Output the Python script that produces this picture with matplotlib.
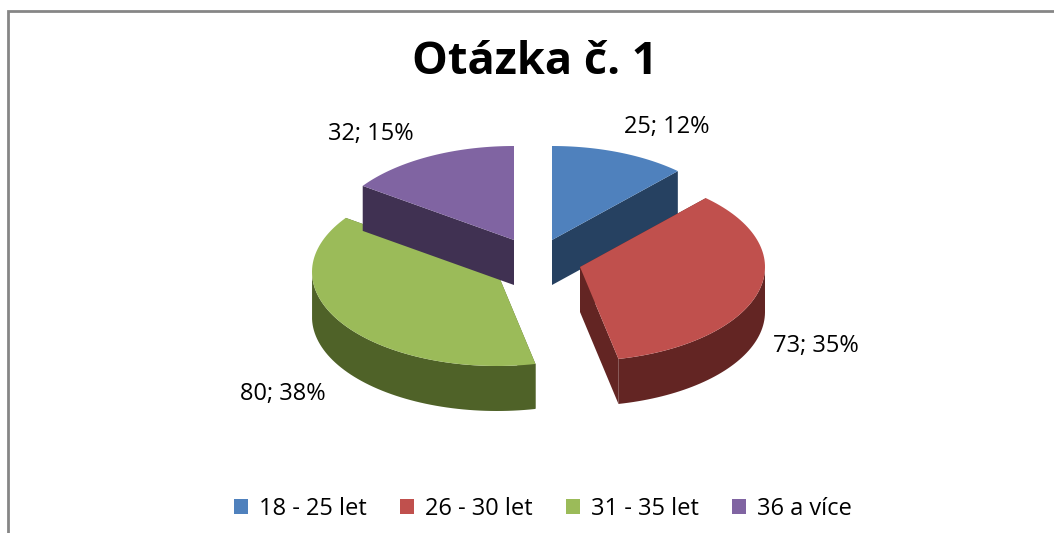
import numpy as np
import matplotlib
matplotlib.use("Agg")
import matplotlib.pyplot as plt
from matplotlib.patches import Polygon, Patch

# ----- Data ----- #
categories = ["18 - 25 let", "26 - 30 let", "31 - 35 let", "36 a více"]
values = [25, 73, 80, 32]
title = "Otázka č. 1"

# ----- Styles / layout (pixels) ----- #
top_colors = ["#4F81BD", "#C0504D", "#9BBB59", "#8064A2"]
side_colors = ["#264161", "#632523", "#4F6228", "#403152"]
centers = [(552, 240), (580, 267), (497, 272), (514, 240)]
label_pos = [(667, 127), (816, 346), (283, 394), (371, 134)]
draw_order = [2, 3, 0, 1]
rx, ry, depth = 185, 94, 45

plt.rcParams["font.family"] = ["Open Sans", "DejaVu Sans"]

fig = plt.figure(figsize=(10.54, 5.33), dpi=100)
ax = fig.add_axes([0, 0, 1, 1])
ax.set_xlim(0, 1054)
ax.set_ylim(533, 0)
ax.axis("off")

# chart frame, runs off the image at the right and bottom
ax.plot([8, 8, 1054], [533, 11, 11], color="#868686", lw=2, solid_joinstyle="miter")

# ----- Slices ----- #
total = sum(values)
edges = np.cumsum([0] + values) / total * 2 * np.pi   # clockwise from the top

for i in draw_order:
    cx, cy = centers[i]
    t = np.linspace(edges[i], edges[i + 1], 80)
    x = cx + rx * np.sin(t)
    y = cy - ry * np.cos(t)

    # radial walls
    for xe, ye in [(x[0], y[0]), (x[-1], y[-1])]:
        ax.add_patch(Polygon([(cx, cy), (xe, ye), (xe, ye + depth), (cx, cy + depth)],
                             closed=True, fc=side_colors[i], ec="none", zorder=2))
    # outer wall, only the part that faces the viewer
    front = (t >= np.pi / 2) & (t <= 3 * np.pi / 2)
    if front.any():
        xf, yf = x[front], y[front]
        wall = np.column_stack([np.r_[xf, xf[::-1]], np.r_[yf, yf[::-1] + depth]])
        ax.add_patch(Polygon(wall, closed=True, fc=side_colors[i], ec="none", zorder=2))
    # top face
    top = np.column_stack([np.r_[cx, x], np.r_[cy, y]])
    ax.add_patch(Polygon(top, closed=True, fc=top_colors[i], ec="none", zorder=2))

    pct = round(values[i] / total * 100)
    ax.text(label_pos[i][0], label_pos[i][1], f"{values[i]}; {pct}%",
            ha="center", va="center", fontsize=17, color="black", zorder=3)

# ----- Title and legend ----- #
ax.text(535, 62, title, ha="center", va="center", fontsize=32.5, fontweight="bold", color="black")

handles = [Patch(fc=c, ec="none") for c in top_colors]
ax.legend(handles, categories, ncol=4, frameon=False, fontsize=17,
          loc="center", bbox_to_anchor=(543 / 1054, 1 - 509 / 533),
          handlelength=0.6, handleheight=0.6, handletextpad=0.45, columnspacing=1.42,
          labelcolor="black")

fig.savefig("out.png", dpi=100, facecolor="white")
